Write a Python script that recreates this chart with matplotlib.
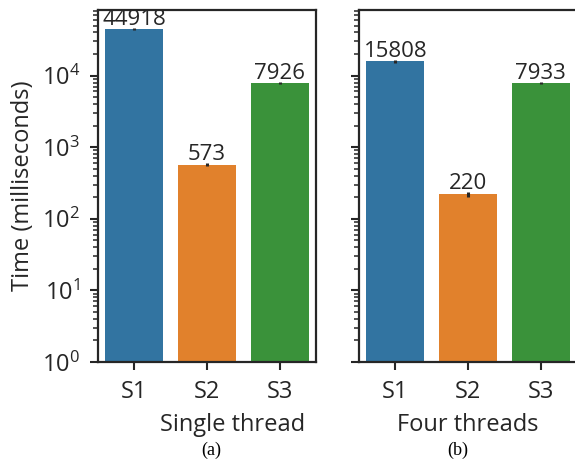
import numpy as np
import matplotlib
matplotlib.use("Agg")
import matplotlib.pyplot as plt

# measured run times (ms)
schemes = ["S1", "S2", "S3"]
single_times = [44918, 573, 7926]
single_err = [1500, 25, 300]
four_times = [15808, 220, 7933]
four_err = [900, 18, 300]
colors = ["#3274a1", "#e1812c", "#3a923a"]

plt.rcParams['font.family'] = ['Open Sans', 'DejaVu Sans']
plt.rcParams['mathtext.fontset'] = 'custom'
plt.rcParams['mathtext.rm'] = 'Open Sans'
plt.rcParams['mathtext.it'] = 'Open Sans:italic'
plt.rcParams['mathtext.bf'] = 'Open Sans:bold'
ink = "#262626"
big = 17

fig = plt.figure(figsize=(5.75, 4.62), dpi=100)
ax1 = fig.add_axes([98 / 575, 100 / 462, 218 / 575, 352 / 462])
ax2 = fig.add_axes([359 / 575, 100 / 462, 218 / 575, 352 / 462], sharey=ax1)

def draw(ax, times, err, xlabel, xlab_x):
    x = np.arange(len(schemes))
    bars = ax.bar(x, times, width=0.8, color=colors, yerr=err,
                  error_kw=dict(ecolor=ink, elinewidth=2.2, capsize=0))
    ax.bar_label(bars, labels=[str(t) for t in times], padding=-1.5,
                 fontsize=16, color=ink)
    ax.set_yscale("log")
    ax.set_ylim(1, 10 ** 4.916)
    ax.set_xlim(-0.5, 2.5)
    ax.set_xticks(x)
    ax.set_xticklabels(schemes)
    ax.set_xlabel(xlabel, color=ink, fontsize=big)
    ax.xaxis.set_label_coords(xlab_x, -0.145)
    for s in ax.spines.values():
        s.set_color(ink)
        s.set_linewidth(1.6)
    ax.tick_params(which="major", direction="out", length=6, width=1.5,
                   pad=7, color=ink, labelcolor=ink, labelsize=big)
    ax.tick_params(which="minor", direction="out", length=3.5, width=1.1,
                   color=ink)
    ax.tick_params(axis="x", which="minor", length=0)

draw(ax1, single_times, single_err, "Single thread", 0.615)
draw(ax2, four_times, four_err, "Four threads", 0.5)
ax1.set_ylabel("Time (milliseconds)", color=ink, fontsize=big, labelpad=5)
ax2.tick_params(axis="y", labelleft=False)

fig.text(211 / 575, 1 - 450 / 462, "(a)", ha="center", va="center",
         family=["Liberation Serif", "DejaVu Serif"], fontsize=13)
fig.text(458 / 575, 1 - 450 / 462, "(b)", ha="center", va="center",
         family=["Liberation Serif", "DejaVu Serif"], fontsize=13)

fig.savefig("out.png", dpi=100)
